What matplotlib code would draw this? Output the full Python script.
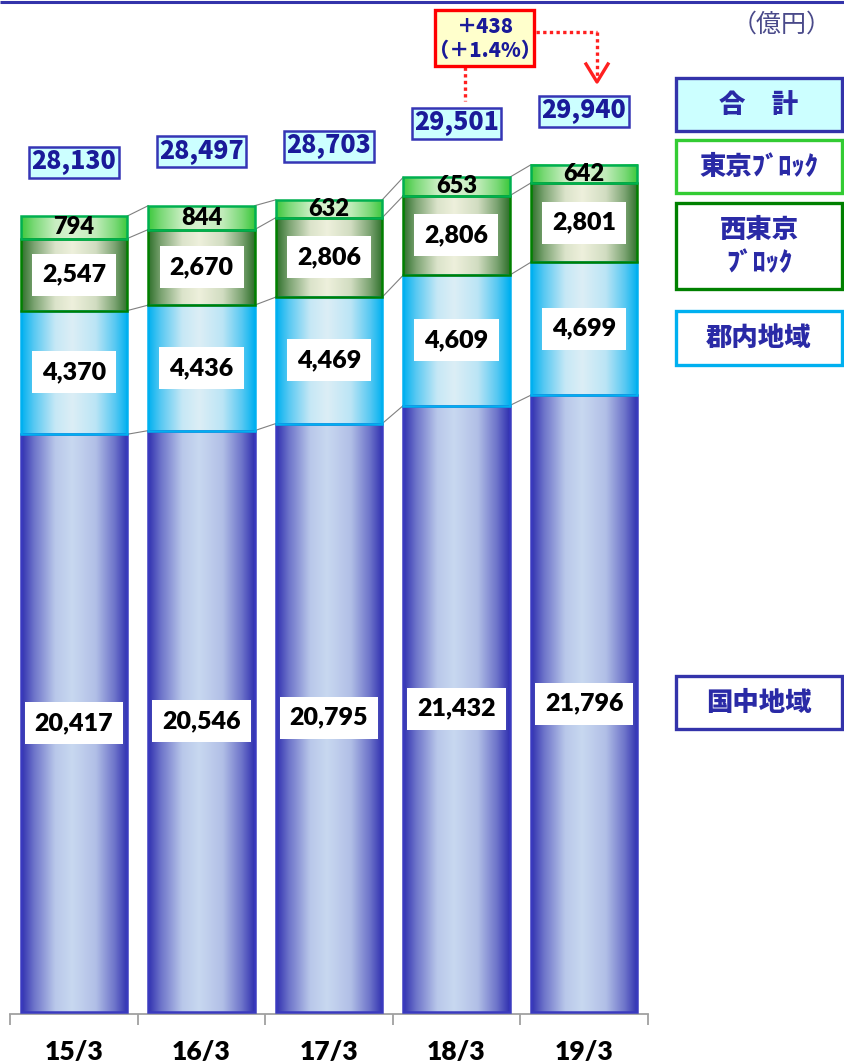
import numpy as np
import matplotlib
matplotlib.use('Agg')
import matplotlib.pyplot as plt
from matplotlib.patches import Rectangle
from matplotlib.colors import to_rgb

# ---------------- data ----------------
categories = ['15/3', '16/3', '17/3', '18/3', '19/3']
kokuchu = [20417, 20546, 20795, 21432, 21796]      # 国中地域
gunnai = [4370, 4436, 4469, 4609, 4699]            # 郡内地域
nishi_tokyo = [2547, 2670, 2806, 2806, 2801]       # 西東京ブロック
tokyo_block = [794, 844, 632, 653, 642]            # 東京ブロック
totals = [28130, 28497, 28703, 29501, 29940]       # 合計
change_text = ['＋438', '（＋1.4%）']
unit_text = '（億円）'
legend_labels = ['合　計', '東京ﾌﾞﾛｯｸ', '西東京\nﾌﾞﾛｯｸ', '郡内地域', '国中地域']

NUM_FONT = ['Lato', 'DejaVu Sans']
JP_FONT = ['Noto Sans CJK JP', 'DejaVu Sans']
NAVY = '#2a2aa6'

W, H = 844, 1064
fig = plt.figure(figsize=(W / 100, H / 100), dpi=100)
ax = fig.add_axes([10.25 / W, 50 / H, 637.5 / W, 1014 / H])

segments = [
    (kokuchu, '#3030b0', '#c8d8f0', '#3a3abf', True),
    (gunnai, '#00b0f0', '#dceef6', '#00b0f0', True),
    (nishi_tokyo, '#2e6f2a', '#eef0dc', '#008000', True),
    (tokyo_block, '#3cc83c', '#d8f2d0', '#00b050', False),
]


def grad_img(dark, light, n=256):
    t = np.linspace(0, 1, n)
    m = np.interp(t, [0, 0.12, 0.32, 0.48, 0.7, 0.88, 1],
                  [0, 0.4, 0.9, 1, 0.85, 0.4, 0])
    d = np.array(to_rgb(dark))
    l = np.array(to_rgb(light))
    img = d[None, :] * (1 - m[:, None]) + l[None, :] * m[:, None]
    return img[None, :, :]


xs = np.arange(len(categories))
w = 0.835
cum = np.zeros((len(categories), len(segments) + 1))
for k, (vals, *_rest) in enumerate(segments):
    cum[:, k + 1] = cum[:, k] + np.array(vals)

for k, (vals, dark, light, edge, boxed) in enumerate(segments):
    img = grad_img(dark, light)
    for i, x in enumerate(xs):
        b = cum[i, k]
        v = vals[i]
        ax.imshow(img, extent=(x - w / 2, x + w / 2, b, b + v), aspect='auto',
                  interpolation='bilinear', zorder=2)
        ax.add_patch(Rectangle((x - w / 2, b), w, v, fill=False, ec=edge,
                               lw=1.8, zorder=3))
        if boxed:
            ax.text(x, b + v / 2, f'{v:,}', ha='center', va='center',
                    fontsize=18, fontweight='heavy', family=NUM_FONT,
                    color='black', zorder=5,
                    bbox=dict(boxstyle='square,pad=0.4', fc='white',
                              ec='none'))
        else:
            ax.text(x, b + v / 2, f'{v:,}', ha='center', va='center',
                    fontsize=17, fontweight='heavy', family=NUM_FONT,
                    color='black', zorder=5)

# connectors
for i in range(len(xs) - 1):
    for k in range(1, len(segments) + 1):
        ax.plot([xs[i] + w / 2, xs[i + 1] - w / 2], [cum[i, k], cum[i + 1, k]],
                color='#808080', lw=0.8, zorder=1)

# totals
for i, x in enumerate(xs):
    ax.text(x, totals[i] + 1900, f'{totals[i]:,}', ha='center', va='center',
            fontsize=18, fontweight='heavy', family=JP_FONT, color='#1a1a99',
            zorder=5,
            bbox=dict(boxstyle='square,pad=0.1', fc='#ccffff', ec='#3535b5',
                      lw=1.8))

ax.set_xlim(-0.5, 4.5)
ax.set_ylim(-71, 35764)
ax.set_xticks(xs)
ax.set_xticklabels(categories, fontsize=19, fontweight='heavy', family=NUM_FONT)
ax.set_xticks(np.arange(-0.5, 5, 1), minor=True)
ax.tick_params(axis='x', which='major', length=0, pad=19)
ax.tick_params(axis='x', which='minor', length=8, color='#a0a0a0', width=1.3)
ax.set_yticks([])
for s in ['left', 'right', 'top']:
    ax.spines[s].set_visible(False)
ax.spines['bottom'].set_color('#a0a0a0')
ax.spines['bottom'].set_linewidth(1.3)
ax.patch.set_visible(False)

# ---------------- overlay (pixel coordinates) ----------------
ov = fig.add_axes([0, 0, 1, 1])
ov.set_xlim(0, W)
ov.set_ylim(H, 0)
ov.axis('off')

ov.plot([0, W], [1.5, 1.5], color='#3333aa', lw=2.2, solid_capstyle='butt')

ov.text(782, 25, unit_text, ha='center', va='center', fontsize=18,
        family=JP_FONT, color='#4a4a8a')

legend_boxes = [
    (78, 131, '#ccffff', '#3333aa'),
    (140, 193, 'white', '#33cc33'),
    (203, 289, 'white', '#008000'),
    (311, 365, 'white', '#00b0f0'),
    (676, 729, 'white', '#3333aa'),
]
for (y0, y1, fc, ec), lab in zip(legend_boxes, legend_labels):
    ov.add_patch(Rectangle((676, y0), 166, y1 - y0, fc=fc, ec=ec, lw=2.4))
    ov.text(759, (y0 + y1) / 2, lab, ha='center', va='center', fontsize=19,
            fontweight='heavy', family=JP_FONT, color=NAVY, linespacing=1.2)

# change annotation
ov.add_patch(Rectangle((435, 10), 99, 56, fc='#ffffcc', ec='#ff0000', lw=2.4,
                       zorder=4))
ov.text(485, 27, change_text[0], ha='center', va='center', fontsize=14.5,
        fontweight='heavy', family=JP_FONT, color='#1a1a99', zorder=5)
ov.text(485, 51, change_text[1], ha='center', va='center', fontsize=14.5,
        fontweight='heavy', family=JP_FONT, color='#1a1a99', zorder=5)
ov.plot([465, 465], [67, 101], color='#ff2020', lw=2.4, ls=(0, (1, 1)))
ov.plot([536, 597], [32, 32], color='#ff2020', lw=2.4, ls=(0, (1, 1)))
ov.plot([597, 597], [32, 76], color='#ff2020', lw=2.4, ls=(0, (1, 1)))
ov.plot([586, 597, 608], [64, 82, 64], color='#ff2020', lw=2.4)

fig.savefig('out.png', dpi=100, facecolor='white')
